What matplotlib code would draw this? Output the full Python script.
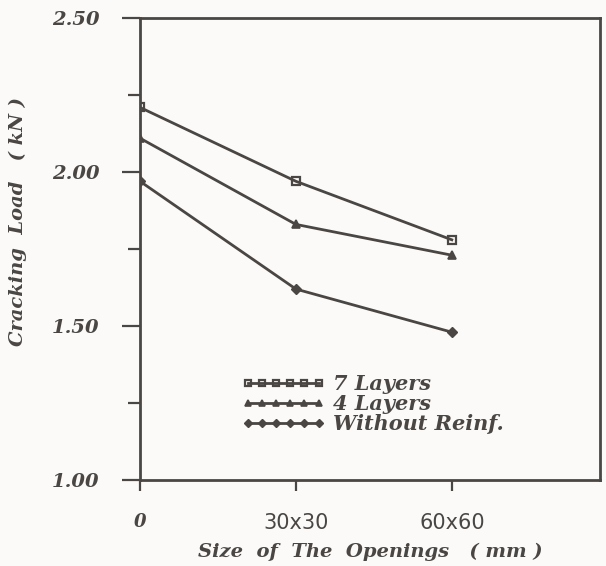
import matplotlib
matplotlib.use("Agg")
import matplotlib.pyplot as plt
from matplotlib.ticker import FixedLocator

# data
openings = ["0", "30x30", "60x60"]
load_7_layers = [2.21, 1.97, 1.78]
load_4_layers = [2.11, 1.83, 1.73]
load_no_reinf = [1.97, 1.62, 1.48]
y_major = [1.00, 1.50, 2.00, 2.50]
y_minor = [1.25, 1.75, 2.25]

ink = "#4a4644"
paper = "#fbfaf8"
bold_it = {"family": "DejaVu Serif", "style": "italic", "weight": "heavy"}


def main() -> None:
    fig = plt.figure(figsize=(6.06, 5.66), dpi=100, facecolor=paper)
    ax = fig.add_axes([0.231, 0.152, 0.759, 0.816], facecolor=paper)

    x = list(range(len(openings)))
    ax.plot(x, load_7_layers, color=ink, lw=2, marker="s", ms=6,
            mfc="none", mec=ink, mew=1.6, label="7 Layers")
    ax.plot(x, load_4_layers, color=ink, lw=2, marker="^", ms=6,
            mfc=ink, mec=ink, mew=1.2, label="4 Layers")
    ax.plot(x, load_no_reinf, color=ink, lw=2, marker="D", ms=5,
            mfc=ink, mec=ink, mew=1.0, label="Without Reinf.")

    ax.set_xlim(0, 2.95)
    ax.set_ylim(1.0, 2.5)

    ax.set_xticks(x)
    ax.set_xticklabels(openings)
    for i, lab in enumerate(ax.get_xticklabels()):
        if i == 0:
            lab.set_fontfamily("DejaVu Serif")
            lab.set_fontstyle("italic")
            lab.set_fontweight("heavy")
            lab.set_fontsize(13)
        else:
            lab.set_fontfamily("DejaVu Sans")
            lab.set_fontsize(15)
        lab.set_color(ink)

    ax.yaxis.set_major_locator(FixedLocator(y_major))
    ax.yaxis.set_minor_locator(FixedLocator(y_minor))
    ax.set_yticklabels([f"{v:.2f}" for v in y_major], fontsize=14,
                       color=ink, **bold_it)

    ax.tick_params(axis="y", which="major", direction="out", length=13,
                   width=1.6, color=ink, pad=16)
    ax.tick_params(axis="y", which="minor", direction="out", length=9,
                   width=1.6, color=ink)
    ax.tick_params(axis="x", which="major", direction="out", length=8,
                   width=1.6, color=ink, pad=16)

    for side in ax.spines.values():
        side.set_color(ink)
        side.set_linewidth(2)

    ax.set_ylabel("Cracking  Load   ( kN )", fontsize=14, color=ink,
                  **bold_it)
    ax.yaxis.set_label_coords(-0.245, 0.56)
    ax.set_xlabel("Size  of  The  Openings   ( mm )", fontsize=14,
                  color=ink, **bold_it)
    ax.xaxis.set_label_coords(0.5, -0.135)

    leg = ax.legend(loc="upper left", bbox_to_anchor=(0.18, 0.27),
                    frameon=False, handlelength=4.0, handletextpad=0.4,
                    labelspacing=0.0, numpoints=6, markerscale=0.8,
                    prop={**bold_it, "size": 15})
    for t in leg.get_texts():
        t.set_color(ink)

    fig.savefig("out.png", dpi=100, facecolor=paper)


if __name__ == "__main__":
    main()
